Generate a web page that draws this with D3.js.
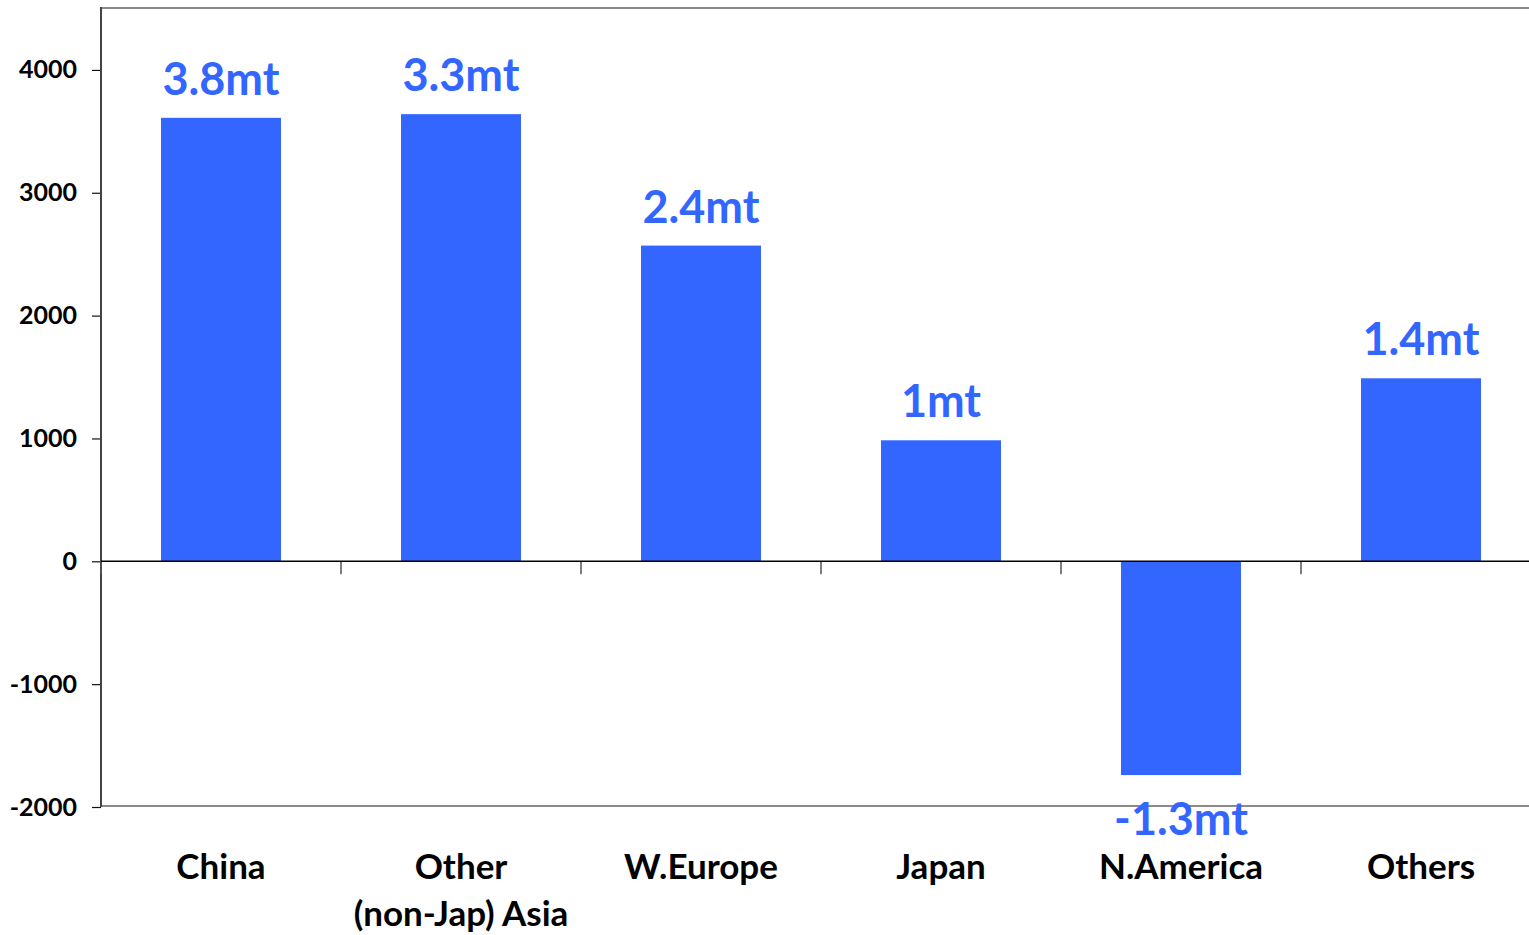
<!DOCTYPE html>
<html>
<head>
<meta charset="utf-8">
<script src="https://cdn.jsdelivr.net/npm/d3@7"></script>
<style>
  html, body { margin: 0; padding: 0; background: #fff; }
  svg { display: block; font-family: Lato, "Open Sans", sans-serif; }
</style>
</head>
<body>
<svg id="chart" width="1529" height="935"></svg>
<script>
// Regional change, bars in kt with a headline label in mt
const regions = ["China", "Other\n(non-Jap) Asia", "W.Europe", "Japan", "N.America", "Others"];
const changes = [3610, 3640, 2570, 985, -1740, 1490];
const valueLabels = ["3.8mt", "3.3mt", "2.4mt", "1mt", "-1.3mt", "1.4mt"];
const yTicks = [-2000, -1000, 0, 1000, 2000, 3000, 4000];

const blue = "#3366ff";
const svg = d3.select("#chart");

const plotLeft = 101, plotRight = 1541, plotTop = 8, plotBottom = 806;

const x = d3.scaleBand()
  .domain(regions)
  .range([plotLeft, plotRight])
  .paddingInner(0.5)
  .paddingOuter(0.25);

const y = d3.scaleLinear()
  .domain([-2000, 4500])
  .range([807, 8.5]);

// frame: top and bottom borders
svg.append("line")
  .attr("x1", plotLeft).attr("x2", plotRight)
  .attr("y1", plotTop).attr("y2", plotTop)
  .attr("stroke", "#8a8a8a").attr("stroke-width", 2);
svg.append("line")
  .attr("x1", plotLeft).attr("x2", plotRight)
  .attr("y1", plotBottom).attr("y2", plotBottom)
  .attr("stroke", "#8a8a8a").attr("stroke-width", 2);

// bars
svg.append("g")
  .selectAll("rect")
  .data(regions)
  .join("rect")
  .attr("x", d => x(d))
  .attr("width", x.bandwidth())
  .attr("y", (d, i) => y(Math.max(0, changes[i])))
  .attr("height", (d, i) => Math.abs(y(changes[i]) - y(0)))
  .attr("fill", blue);

// value axis (plain hyphen for negatives)
const yAxis = svg.append("g")
  .attr("transform", `translate(${plotLeft},0)`)
  .call(d3.axisLeft(y).tickValues(yTicks).tickSize(9).tickPadding(15).tickFormat(d => String(d)));
yAxis.select(".domain").remove();
yAxis.selectAll(".tick line").attr("stroke", "#111").attr("stroke-width", 1.2);
yAxis.selectAll(".tick text")
  .attr("font-size", 25).attr("font-weight", 700).attr("fill", "#000")
  .attr("font-family", "Lato, sans-serif");

svg.append("line")
  .attr("x1", plotLeft).attr("x2", plotLeft)
  .attr("y1", plotTop - 1).attr("y2", plotBottom + 1)
  .attr("stroke", "#444").attr("stroke-width", 2);

// zero line with category dividers
const boundaries = d3.range(regions.length).map(i => plotLeft + i * x.step());
svg.append("g")
  .selectAll("line")
  .data(boundaries)
  .join("line")
  .attr("x1", d => d).attr("x2", d => d)
  .attr("y1", y(0)).attr("y2", y(0) + 13)
  .attr("stroke", "#555").attr("stroke-width", 1.5);
svg.append("line")
  .attr("x1", plotLeft).attr("x2", plotRight)
  .attr("y1", y(0)).attr("y2", y(0))
  .attr("stroke", "#000").attr("stroke-width", 1.5);

// value labels
svg.append("g")
  .selectAll("text")
  .data(regions)
  .join("text")
  .attr("x", d => x(d) + x.bandwidth() / 2)
  .attr("y", (d, i) => changes[i] >= 0 ? y(changes[i]) - 23 : y(changes[i]) + 60)
  .attr("text-anchor", "middle")
  .attr("font-size", 45).attr("font-weight", 700)
  .attr("fill", blue)
  .text((d, i) => valueLabels[i]);

// category labels
const cat = svg.append("g")
  .selectAll("text")
  .data(regions)
  .join("text")
  .attr("x", d => x(d) + x.bandwidth() / 2)
  .attr("y", 879)
  .attr("text-anchor", "middle")
  .attr("font-size", 35).attr("font-weight", 700)
  .attr("fill", "#000");
cat.selectAll("tspan")
  .data(d => d.split("\n"))
  .join("tspan")
  .attr("x", function () { return d3.select(this.parentNode).attr("x"); })
  .attr("dy", (d, i) => i === 0 ? 0 : 47)
  .text(d => d);
</script>
</body>
</html>
